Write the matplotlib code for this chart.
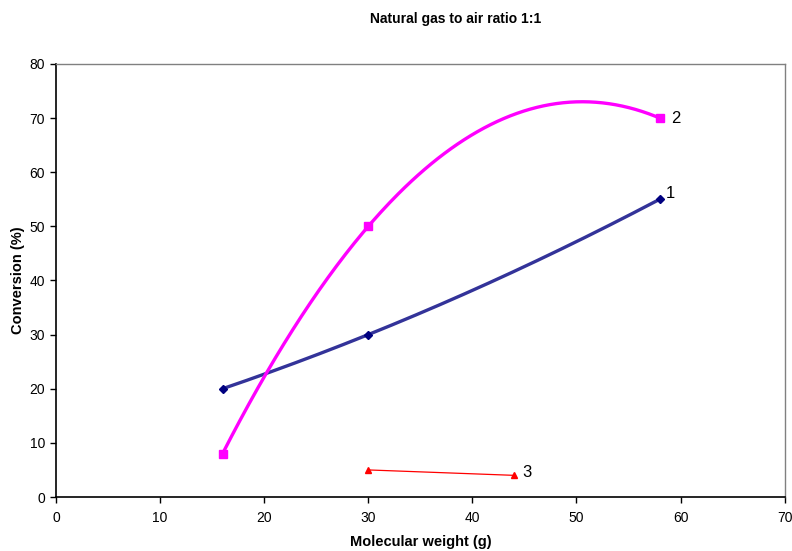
import numpy as np
import matplotlib
matplotlib.use("Agg")
import matplotlib.pyplot as plt

plt.rcParams['font.family'] = ['Liberation Sans', 'DejaVu Sans']

# Conversion vs molecular weight
mw_1 = [16, 30, 58]
conv_1 = [20, 30, 55]
mw_2 = [16, 30, 58]
conv_2 = [8, 50, 70]
mw_3 = [30, 44]
conv_3 = [5, 4]
series_labels = ["1", "2", "3"]


def smooth(x, y, n=200):
    """Smoothed line through the points (quadratic interpolation)."""
    x = np.asarray(x, float)
    y = np.asarray(y, float)
    if len(x) < 3:
        return x, y
    coef = np.polyfit(x, y, 2)
    xs = np.linspace(x.min(), x.max(), n)
    return xs, np.polyval(coef, xs)


fig = plt.figure(figsize=(7.92, 5.51), dpi=100)
ax = fig.add_axes([0.0707, 0.098, 0.92, 0.786])

xs, ys = smooth(mw_1, conv_1)
ax.plot(xs, ys, color="#333399", lw=2.4, solid_capstyle="round", zorder=3)
ax.plot(mw_1, conv_1, ls="none", marker="D", ms=4.5, color="#000080", zorder=4)

xs, ys = smooth(mw_2, conv_2)
ax.plot(xs, ys, color="#FF00FF", lw=2.4, solid_capstyle="round", zorder=3)
ax.plot(mw_2, conv_2, ls="none", marker="s", ms=5.5, color="#FF00FF", zorder=4)

ax.plot(mw_3, conv_3, color="#FF0000", lw=0.9, marker="^", ms=4.5, zorder=3)

label_offsets = [(4, 4), (8, 0), (6, 2)]
ends = [(mw_1[-1], conv_1[-1]), (mw_2[-1], conv_2[-1]), (mw_3[-1], conv_3[-1])]
for (xv, yv), lab, off in zip(ends, series_labels, label_offsets):
    ax.annotate(lab, (xv, yv), xytext=off, textcoords="offset points",
                fontsize=12, va="center", ha="left")

ax.set_xlim(0, 70)
ax.set_ylim(0, 80)
ax.set_xticks(np.arange(0, 71, 10))
ax.set_yticks(np.arange(0, 81, 10))
ax.tick_params(direction="out", length=4, width=1, labelsize=10, colors="black")
ax.tick_params(axis="x", pad=6)
ax.tick_params(axis="y", pad=4)
for s in ["left", "bottom"]:
    ax.spines[s].set_color("black")
    ax.spines[s].set_linewidth(1.2)
for s in ["top", "right"]:
    ax.spines[s].set_color("#808080")
    ax.spines[s].set_linewidth(1.0)

ax.set_xlabel("Molecular weight (g)", fontsize=10.5, fontweight="bold", labelpad=7)
ax.set_ylabel("Conversion (%)", fontsize=10.5, fontweight="bold", labelpad=3)
fig.text(0.575, 0.965, "Natural gas to air ratio 1:1", ha="center", va="center",
         fontsize=10, fontweight="bold")

fig.savefig("out.png", dpi=100)
